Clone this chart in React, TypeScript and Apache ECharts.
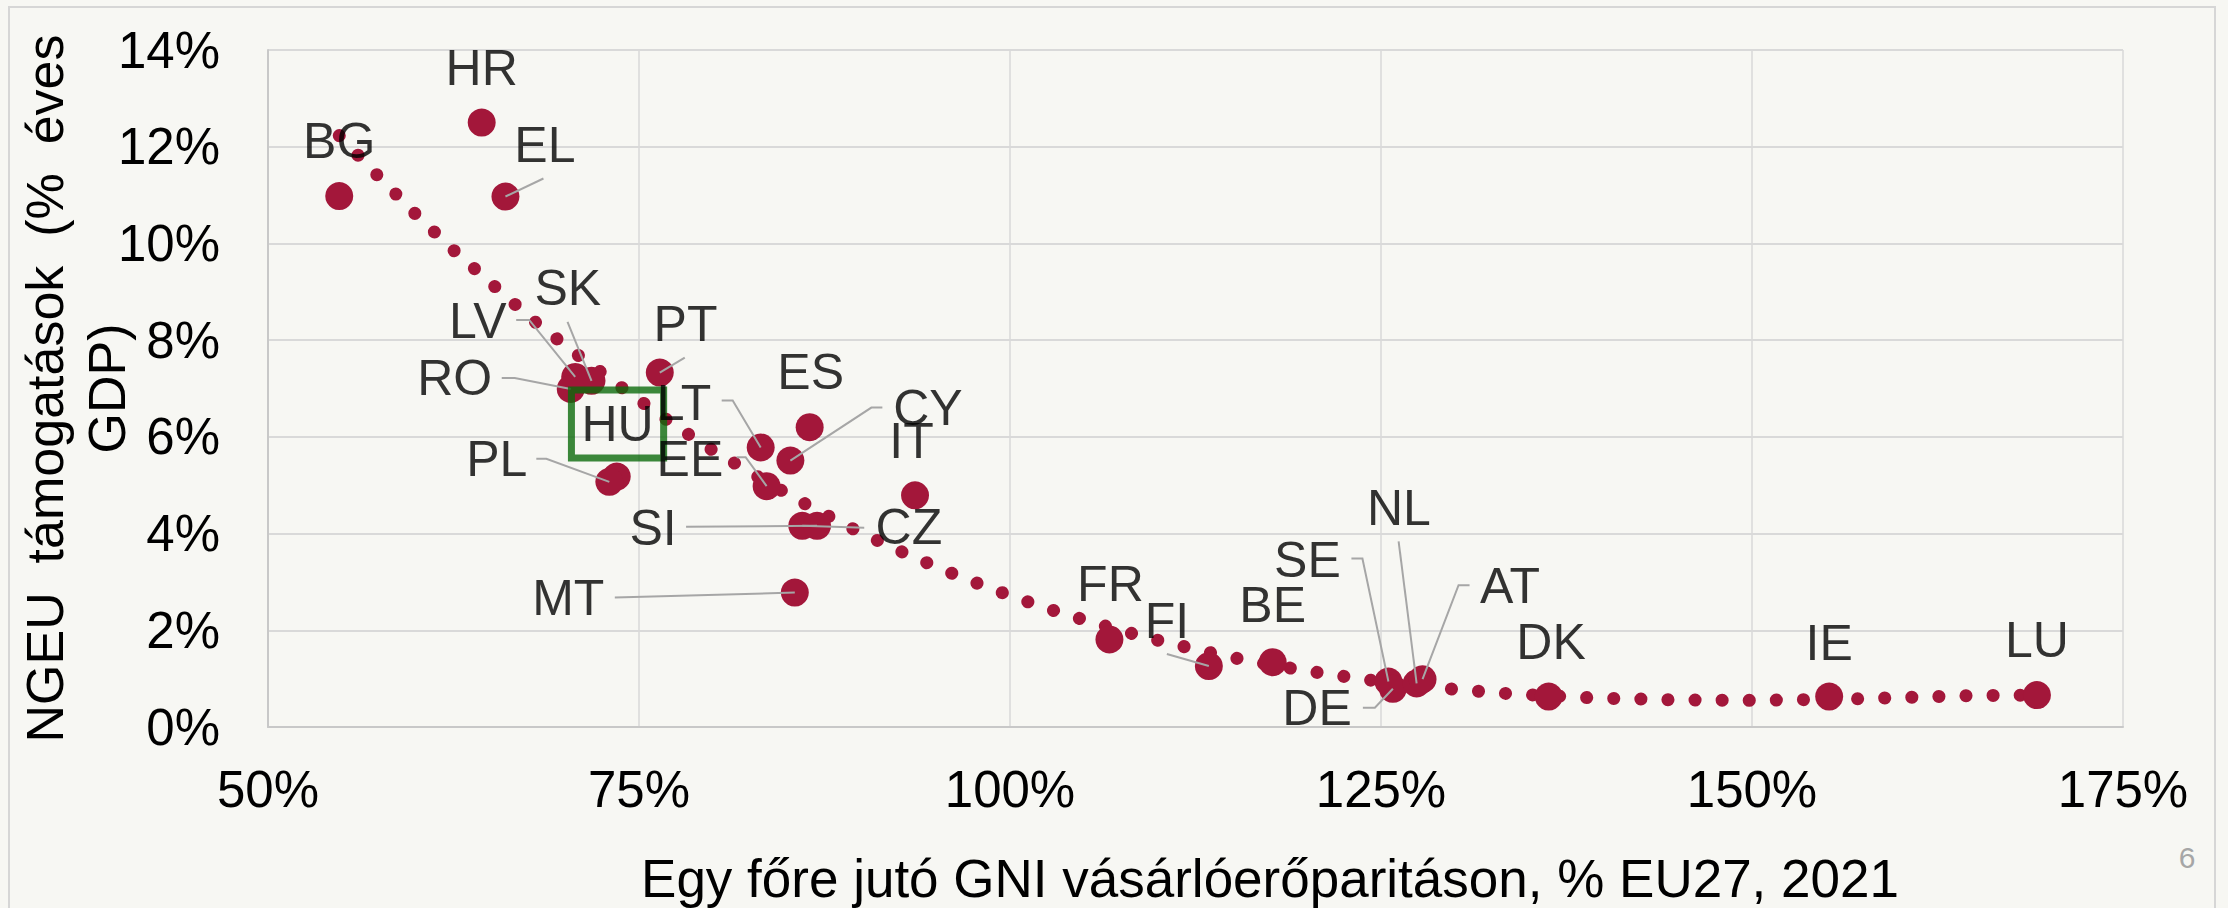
import React, { useEffect, useRef } from "react";
import * as echarts from "echarts";

// ---- Data ----
const countries = ["BG", "HR", "EL", "LV", "SK", "RO", "PT", "HU", "PL", "LT", "ES", "CY", "EE", "IT", "CZ", "SI", "MT", "FR", "FI", "BE", "SE", "DE", "NL", "AT", "DK", "IE", "LU"];
// GNI per capita in PPS, % of EU27 (2021)
const gniPps = [54.8, 64.4, 66.0, 70.7, 71.8, 70.4, 76.4, 73.5, 73.0, 83.2, 86.5, 85.2, 83.6, 93.6, 86.0, 87.0, 85.5, 106.7, 113.4, 117.7, 125.5, 125.8, 127.4, 127.8, 136.3, 155.2, 169.2];
// NGEU grants, % of annual GDP
const ngeuGrants = [10.98, 12.5, 10.97, 7.24, 7.16, 6.99, 7.33, 5.18, 5.07, 5.78, 6.2, 5.51, 4.98, 4.79, 4.16, 4.16, 2.78, 1.81, 1.26, 1.34, 0.94, 0.79, 0.9, 0.99, 0.63, 0.63, 0.66];

// Trend line
const trendX = [54.8, 57.4, 59.9, 62.5, 65.2, 67.9, 70.8, 73.7, 76.6, 79.6, 82.7, 85.8, 89.0, 92.2, 95.5, 98.9, 102.3, 105.8, 109.2, 112.7, 116.2, 119.8, 123.3, 126.0, 128.7, 134.0, 139.4, 144.8, 150.2, 157.5, 164.7, 169.2];
const trendY = [12.23, 11.4, 10.62, 9.86, 9.13, 8.4, 7.71, 7.05, 6.41, 5.79, 5.23, 4.68, 4.16, 3.69, 3.25, 2.84, 2.47, 2.14, 1.85, 1.59, 1.36, 1.17, 1.01, 0.9, 0.81, 0.68, 0.6, 0.56, 0.55, 0.585, 0.65, 0.66];

const xMin = 50, xMax = 175, xStep = 25;
const yMin = 0, yMax = 14, yStep = 2;

const xTitle = "Egy főre jutó GNI vásárlóerőparitáson, % EU27, 2021";
const yTitle = "NGEU  támogatások  (%  éves\nGDP)";
const pageNumber = "6";

// ---- Layout (pixel offsets of labels and leader lines, relative to the point) ----
const labelOffsets: Record<string, number[]> = {
  BG: [0, -55], HR: [0, -55], EL: [39.5, -52], LV: [-97.4, -55.9], SK: [-23.7, -92.4],
  RO: [-116, -10.7], PT: [25.8, -48.1], HU: [0.8, -52.5], PL: [-112.6, -22.5], LT: [-76.7, -44.8],
  ES: [1, -54.7], CY: [137.6, -52.4], EE: [-76.7, -26.8], IT: [-3.5, -54.5], CZ: [106.7, 1.5],
  SI: [-164, 2], MT: [-226.6, 5.5], FR: [1, -55], FI: [-42, -45.2], BE: [0, -57],
  SE: [-81, -121.7], DE: [-75.8, 19.3], NL: [-17.7, -175], AT: [87.5, -93.5], DK: [2.4, -55],
  IE: [0, -54], LU: [0, -55],
};
const leaderLines: Record<string, number[][]> = {
  EL: [[38, -18], [0, 0]],
  SK: [[-24, -59], [0, 0]],
  LV: [[-59, -57], [-46, -57], [0, 0]],
  RO: [[-69, -11], [-56, -11], [0, 0]],
  PT: [[25, -15], [0, 0]],
  LT: [[-39, -47], [-28, -47], [0, 0]],
  CY: [[92, -53], [81, -53], [0, 0]],
  EE: [[-30, -29], [-21, -29], [0, 0]],
  SI: [[-131, 1], [0, 0]],
  CZ: [[62, 2], [0, 0]],
  MT: [[-180, 5], [0, 0]],
  PL: [[-73, -23], [-63, -23], [0, 0]],
  FI: [[-42, -12], [0, 0]],
  SE: [[-37, -123], [-26, -123], [0, 0]],
  NL: [[-18, -142], [0, 0]],
  AT: [[47, -94], [36, -94], [0, 0]],
  DE: [[-30, 19], [-18, 19], [0, 0]],
};

const RED = "#a3173a";
const GREEN = "#0b6a0b";
const BG_COLOR = "#f7f7f3";
const FONT = "'Liberation Sans', Arial, sans-serif";

export default function App() {
  const ref = useRef<HTMLDivElement>(null);

  useEffect(() => {
    document.body.style.margin = "0";
    document.body.style.background = BG_COLOR;
    if (!ref.current) return;
    const chart = echarts.init(ref.current, undefined, { renderer: "svg" });

    const pointData = countries.map((c, i) => [gniPps[i], ngeuGrants[i], i]);
    const labelData = countries.map((c, i) => {
      const isHU = c === "HU";
      return {
        value: [gniPps[i], ngeuGrants[i]],
        name: c,
        label: isHU
          ? {
              offset: labelOffsets[c],
              borderColor: GREEN,
              borderWidth: 7,
              padding: [9, 10, 9, 10],
            }
          : { offset: labelOffsets[c] },
      };
    });
    const leaderData = countries
      .map((c, i) => (leaderLines[c] ? [gniPps[i], ngeuGrants[i], i] : null))
      .filter((d) => d !== null);

    chart.setOption({
      animation: false,
      backgroundColor: BG_COLOR,
      textStyle: { fontFamily: FONT },
      grid: { left: 268, top: 50, width: 1855, height: 677, outerBoundsMode: "none", containLabel: false },
      xAxis: {
        type: "value",
        min: xMin,
        max: xMax,
        interval: xStep,
        name: xTitle,
        nameLocation: "middle",
        nameGap: 125,
        nameMoveOverlap: false,
        nameTextStyle: { fontSize: 53, lineHeight: 53, color: "#000", fontFamily: FONT, padding: [0, 0, 0, 149] },
        axisLine: { show: true, lineStyle: { color: "#c8c8c8", width: 2 } },
        axisTick: { show: false },
        axisLabel: { formatter: "{value}%", fontSize: 51, lineHeight: 51, color: "#000", margin: 37, fontFamily: FONT },
        splitLine: { show: true, lineStyle: { color: "#d9d9d9", width: 1.5 } },
      },
      yAxis: {
        type: "value",
        min: yMin,
        max: yMax,
        interval: yStep,
        name: yTitle,
        nameLocation: "middle",
        nameRotate: 90,
        nameGap: 130,
        nameMoveOverlap: false,
        nameTextStyle: { fontSize: 52, lineHeight: 62, color: "#000", fontFamily: FONT, align: "center" },
        axisLine: { show: true, lineStyle: { color: "#c8c8c8", width: 2 } },
        axisTick: { show: false },
        axisLabel: { formatter: "{value}%", fontSize: 51, color: "#000", margin: 48, fontFamily: FONT },
        splitLine: { show: true, lineStyle: { color: "#d9d9d9", width: 2 } },
      },
      graphic: [
        {
          type: "rect",
          shape: { x: 9, y: 7, width: 2206, height: 1000 },
          style: { fill: null, stroke: "#d6d6d6", lineWidth: 2 },
          silent: true,
          z: -1,
        },
        {
          type: "text",
          x: 2187,
          y: 857,
          style: { text: pageNumber, fontSize: 30, fill: "#a6a6a6", fontFamily: FONT, align: "center", verticalAlign: "middle" },
          silent: true,
        },
      ],
      series: [
        {
          type: "line",
          name: "trend",
          data: trendX.map((x, i) => [x, trendY[i]]),
          showSymbol: false,
          symbol: "none",
          smooth: false,
          z: 1,
          lineStyle: { color: RED, width: 13, type: [0.1, 27], cap: "round", join: "round" },
          silent: true,
        },
        {
          type: "scatter",
          name: "countries",
          data: pointData,
          symbol: "circle",
          symbolSize: 28,
          itemStyle: { color: RED, opacity: 1 },
          z: 2,
          silent: true,
        },
        {
          type: "custom",
          name: "leaders",
          coordinateSystem: "cartesian2d",
          data: leaderData,
          encode: { x: 0, y: 1 },
          z: 3,
          silent: true,
          renderItem: (params: any, api: any) => {
            const idx = api.value(2);
            const pts = leaderLines[countries[idx]];
            const c = api.coord([api.value(0), api.value(1)]);
            return {
              type: "polyline",
              shape: { points: pts.map((p) => [c[0] + p[0], c[1] + p[1]]) },
              style: { stroke: "#a6a6a6", lineWidth: 2, fill: null },
            };
          },
        },
        {
          type: "scatter",
          name: "labels",
          data: labelData,
          symbol: "circle",
          symbolSize: 1,
          itemStyle: { color: "rgba(0,0,0,0)" },
          z: 4,
          silent: true,
          label: {
            show: true,
            position: "inside",
            formatter: "{b}",
            fontSize: 50,
            lineHeight: 50,
            color: "#000",
            fontFamily: FONT,
          },
        },
      ],
    });

    return () => {
      chart.dispose();
    };
  }, []);

  return <div ref={ref} style={{ width: 2228, height: 908 }} />;
}
